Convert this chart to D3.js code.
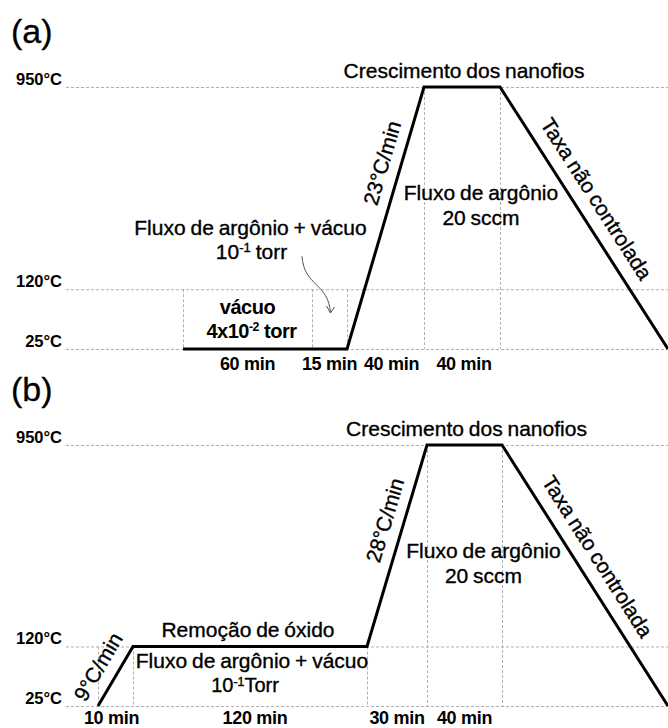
<!DOCTYPE html>
<html>
<head>
<meta charset="utf-8">
<script src="https://cdn.jsdelivr.net/npm/d3@7"></script>
<style>
  html, body { margin: 0; padding: 0; background: #fff; }
  text { font-family: "Liberation Sans", Arial, sans-serif; fill: #000; }
  text.note { stroke: #000; stroke-width: 0.35; word-spacing: -1px; }
</style>
</head>
<body>
<svg id="chart" width="668" height="728"></svg>
<script>
// Temperature levels of the heating programs (°C)
const tempLevels = [25, 120, 950];
const tempLabels = ["25°C", "120°C", "950°C"];

// Program (a): stage durations and temperature at each stage boundary
// (the last boundary is the end of the uncontrolled cooling)
const stageMinutesA = [60, 15, 40, 40];
const stageLabelsA = ["60 min", "15 min", "40 min", "40 min"];
const boundaryTempsA = [25, 25, 25, 950, 950, 25];
const rampLabelA = "23°C/min";

// Program (b)
const stageMinutesB = [10, 120, 30, 40];
const stageLabelsB = ["10 min", "120 min", "30 min", "40 min"];
const boundaryTempsB = [25, 120, 120, 950, 950, 25];
const rampLabelB = "28°C/min";
const preRampLabelB = "9°C/min";

const W = 668, H = 728;
const svg = d3.select("#chart");
const FONT = 21;

function addRich(sel, parts) {
  // parts: [text, superscript, text, ...]
  parts.forEach((p, i) => {
    if (i % 2 === 0) {
      sel.append("tspan").attr("dy", i === 0 ? 0 : "0.34em").text(p);
    } else {
      sel.append("tspan").attr("font-size", "0.62em").attr("dy", "-0.55em").text(p);
    }
  });
  return sel;
}

function note(g, xp, yp, txt, size) {
  return g.append("text").attr("class", "note").attr("x", xp).attr("y", yp)
    .attr("text-anchor", "middle").attr("font-size", size || FONT).text(txt);
}

function drawPanel(cfg) {
  const g = svg.append("g");
  const cum = [0];
  cfg.minutes.forEach(m => cum.push(cum[cum.length - 1] + m));

  // schematic (broken) axes: piecewise-linear scales
  const x = d3.scaleLinear().domain(cum).range(cfg.xStops);
  const y = d3.scaleLinear().domain(tempLevels)
    .range([cfg.y25, cfg.y25 - 0.228 * (cfg.y25 - cfg.y950), cfg.y950]);

  const pts = cfg.temps.map((T, i) => ({ t: i < cum.length ? cum[i] : null, T }));
  const px = d => d.t === null ? W : x(d.t);

  g.append("text").attr("x", 11).attr("y", cfg.tagY)
    .attr("font-size", 34).attr("stroke", "#000").attr("stroke-width", 0.3).text(cfg.tag);

  // horizontal guides
  g.selectAll("line.h").data(tempLevels).join("line")
    .attr("x1", 66).attr("x2", W)
    .attr("y1", d => y(d) + 0.5).attr("y2", d => y(d) + 0.5)
    .attr("stroke", "#b0b0b0").attr("stroke-width", 1).attr("stroke-dasharray", "3,2");

  g.selectAll("text.temp").data(tempLevels).join("text")
    .attr("x", 62).attr("y", d => y(d) - 2)
    .attr("text-anchor", "end").attr("font-weight", "bold").attr("font-size", 16.5)
    .text((d, i) => tempLabels[i]);

  // vertical guides at stage boundaries
  g.selectAll("line.v").data(pts.slice(0, cum.length)).join("line")
    .attr("x1", d => Math.round(px(d)) + 0.5).attr("x2", d => Math.round(px(d)) + 0.5)
    .attr("y1", d => y(Math.max(d.T, 120))).attr("y2", y(25))
    .attr("stroke", "#b0b0b0").attr("stroke-width", 1).attr("stroke-dasharray", "3,2");

  // temperature profile
  g.append("path").datum(pts)
    .attr("d", d3.line().x(px).y(d => y(d.T)))
    .attr("fill", "none").attr("stroke", "#000").attr("stroke-width", 3)
    .attr("stroke-linejoin", "miter");

  // stage durations
  g.selectAll("text.dur").data(cfg.labels).join("text")
    .attr("x", (d, i) => (x(cum[i]) + x(cum[i + 1])) / 2 + (cfg.durShift ? cfg.durShift[i] : 0))
    .attr("y", Math.min(y(25) + 21, H - 4))
    .attr("text-anchor", "middle").attr("font-weight", "bold").attr("font-size", 18)
    .attr("letter-spacing", -0.3)
    .text(d => d);

  // label along a segment between boundaries i and i+1
  function slopeLabel(i, frac, offset, txt) {
    const a = pts[i], b = pts[i + 1];
    const x0 = px(a), y0 = y(a.T), x1 = px(b), y1 = y(b.T);
    const ang = Math.atan2(y1 - y0, x1 - x0);
    const cx = x0 + frac * (x1 - x0) + Math.sin(ang) * offset;
    const cy = y0 + frac * (y1 - y0) - Math.cos(ang) * offset;
    g.append("text").attr("class", "note")
      .attr("transform", `translate(${cx},${cy}) rotate(${ang * 180 / Math.PI})`)
      .attr("text-anchor", "middle").attr("dominant-baseline", "central")
      .attr("font-size", FONT).text(txt);
  }

  const plateauMid = (x(cum[3]) + x(cum[4])) / 2;
  note(g, plateauMid + 2, y(950) - 9, "Crescimento dos nanofios");
  note(g, plateauMid + 19, y(950) + 113, "Fluxo de argônio");
  note(g, plateauMid + 19, y(950) + 138, "20 sccm");

  slopeLabel(2, cfg.rampFrac, 19, cfg.ramp);
  slopeLabel(4, 0.47, 21, "Taxa não controlada");

  return { g, x, y, cum, pts, px, slopeLabel };
}

// ---- (a)
const A = drawPanel({
  tag: "(a)", tagY: 43,
  minutes: stageMinutesA, labels: stageLabelsA, temps: boundaryTempsA,
  xStops: [183, 312, 347, 424, 500], y950: 87, y25: 349,
  ramp: rampLabelA, rampFrac: 0.69, durShift: [0, 0, 6, 2]
});
{
  const { g, x, y, cum } = A;
  const m1 = (x(cum[0]) + x(cum[1])) / 2;
  note(g, m1 + 3, y(120) - 54, "Fluxo de argônio + vácuo");
  addRich(note(g, m1 + 4, y(120) - 30, ""), ["10", "-1", " torr"]);
  g.append("text").attr("x", m1).attr("y", y(120) + 25)
    .attr("text-anchor", "middle").attr("font-size", 20).attr("font-weight", "bold")
    .attr("letter-spacing", -0.5).text("vácuo");
  addRich(g.append("text").attr("x", m1 + 4).attr("y", y(120) + 49)
    .attr("text-anchor", "middle").attr("font-size", 20).attr("font-weight", "bold")
    .attr("letter-spacing", -0.5), ["4x10", "-2", " torr"]);

  // curved pointer into the 15 min stage
  const ex = (x(cum[1]) + x(cum[2])) / 2 + 1, ey = y(25) - 36;
  const sx = x(cum[1]) - 10, sy = y(120) - 33;
  const p = d3.path();
  p.moveTo(sx, sy);
  p.bezierCurveTo(sx + 2, sy + 30, ex - 2, ey - 30, ex, ey);
  g.append("path").attr("d", p.toString()).attr("fill", "none")
    .attr("stroke", "#555").attr("stroke-width", 1);
  g.append("path").attr("d", `M${ex - 4},${ey - 7}L${ex},${ey}L${ex + 4},${ey - 6}`)
    .attr("fill", "none").attr("stroke", "#555").attr("stroke-width", 1);
}

// ---- (b)
const B = drawPanel({
  tag: "(b)", tagY: 401,
  minutes: stageMinutesB, labels: stageLabelsB, temps: boundaryTempsB,
  xStops: [98, 133, 367, 427, 502], y950: 445, y25: 706,
  ramp: rampLabelB, rampFrac: 0.60, durShift: [-4, 5, 0, 0]
});
{
  const { g, x, y, cum, slopeLabel } = B;
  const m2 = (x(cum[1]) + x(cum[2])) / 2;
  note(g, m2 - 2, y(120) - 9, "Remoção de óxido");
  note(g, m2 + 2, y(120) + 22, "Fluxo de argônio + vácuo");
  addRich(note(g, m2 - 5, y(120) + 46, "", 20), ["10", "-1", "Torr"]);
  slopeLabel(0, 0.49, 20, preRampLabelB);
}
</script>
</body>
</html>
